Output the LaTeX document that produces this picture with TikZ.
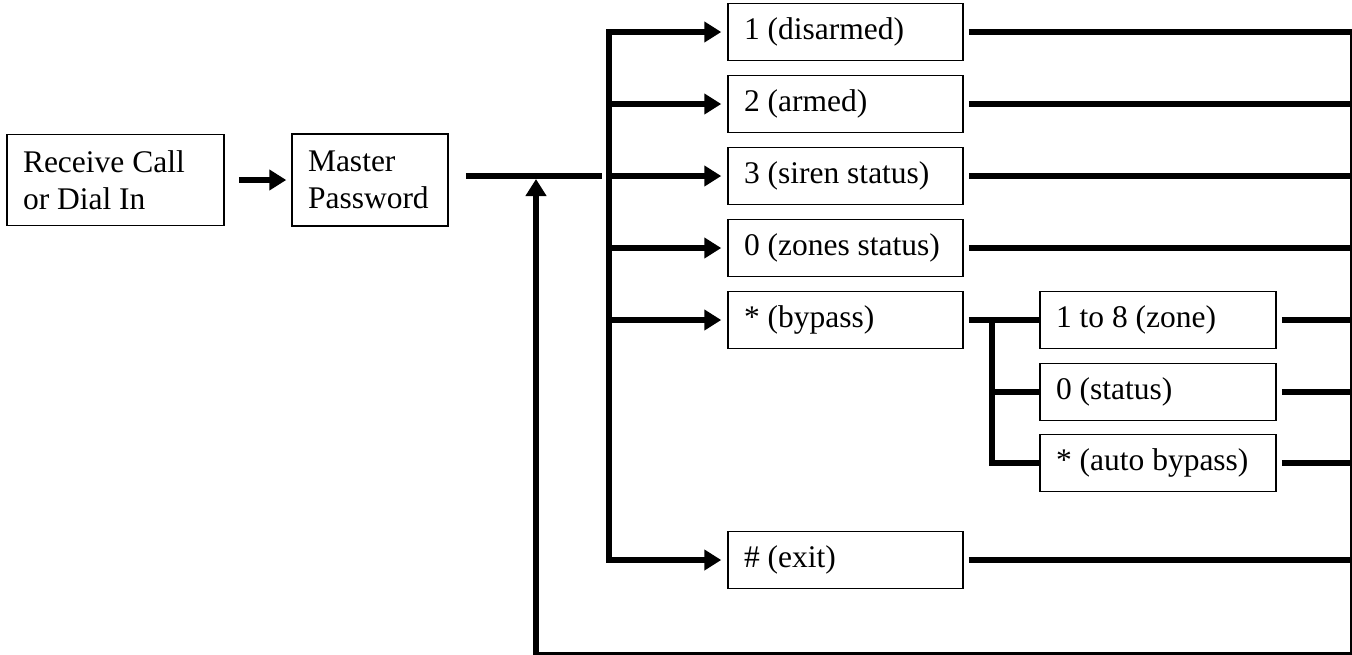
\documentclass[tikz,border=0pt]{standalone}
\usepackage{fontspec}
\setmainfont{Liberation Serif}
\usetikzlibrary{arrows.meta}

\begin{document}
\begin{tikzpicture}[x=0.5pt,y=-0.5pt,
  box/.style={draw,line width=0.75pt,inner xsep=8pt,inner ysep=0pt,align=flush left,
    minimum height=28.5pt,font=\fontsize{15.75}{18.5}\selectfont},
  menubox/.style={box,text width=101.5pt},
  subbox/.style={box,text width=102pt},
  wire/.style={line width=3pt},
  feed/.style={wire,-{Triangle[length=8.5pt,width=10pt]},shorten >=3pt}]
\useasboundingbox (0,0) rectangle (1352,654);

\node[box,text width=92.5pt,minimum height=45.5pt] (call) at (115.5,180) {Receive Call\\or Dial In};
\node[box,text width=62pt,minimum height=46pt] (master) at (370,180) {Master\\Password};

\node[menubox] (disarm) at (845.5,32)  {1 (disarmed)};
\node[menubox] (armed)  at (845.5,104) {2 (armed)};
\node[menubox] (siren)  at (845.5,176) {3 (siren status)};
\node[menubox] (zones)  at (845.5,248) {0 (zones status)};
\node[menubox] (bypass) at (845.5,320) {* (bypass)};
\node[menubox] (exit)   at (845.5,560) {\# (exit)};

\node[subbox] (zone)   at (1158,320) {1 to 8 (zone)};
\node[subbox] (status) at (1158,392) {0 (status)};
\node[subbox] (auto)   at (1158,463) {* (auto bypass)};

\coordinate (bus) at (609,0);
\coordinate (subbus) at (992,0);
\coordinate (rail) at (1353,0);
\coordinate (loop) at (536,655);

\draw[feed,shorten <=7pt,shorten >=2.5pt] (call) -- (master);
\draw[wire,shorten <=8.5pt,shorten >=3.5pt] (master.east |- siren.west) -- (siren.west -| bus);

\draw[feed] (exit.west -| bus) |- (disarm.west);
\draw[feed] (bypass.west -| bus) |- (exit.west);
\foreach \n in {armed,siren,zones,bypass}
  \draw[feed] (\n.west -| bus) -- (\n.west);

\draw[wire,shorten <=2.5pt] (bypass.east) -- (zone.west);
\draw[wire] (zone.west -| subbus) |- (auto.west);
\draw[wire] (status.west -| subbus) -- (status.west);

\foreach \n in {disarm,armed,siren,zones,exit,zone,status,auto}
  \draw[wire,shorten <=2.5pt] (\n.east) -- (\n.east -| rail);
\draw[feed,shorten >=1.5pt] (disarm.east -| rail) |- (loop) -- (loop |- siren.west);

\end{tikzpicture}
\end{document}
